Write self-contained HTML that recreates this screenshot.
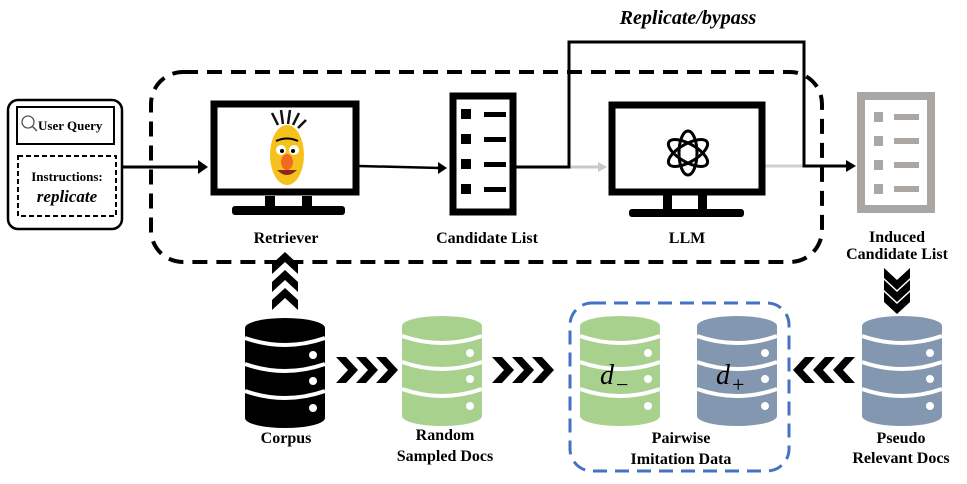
<!DOCTYPE html>
<html><head><style>body{margin:0;background:#fff}svg{display:block}text{font-family:"Liberation Serif",serif;font-weight:bold}</style></head>
<body>
<svg width="967" height="484" viewBox="0 0 967 484" xmlns="http://www.w3.org/2000/svg">
<defs>
<g id="db">
<rect x="0" y="10" width="80" height="90" rx="0"/>
<ellipse cx="40" cy="10" rx="40" ry="10"/>
<ellipse cx="40" cy="100" rx="40" ry="10"/>
<path d="M0 20 Q40 34 80 20 M0 46 Q40 60 80 46 M0 73 Q40 87 80 73" stroke="#fff" stroke-width="4" fill="none"/>
<circle cx="68" cy="37" r="4" fill="#fff"/><circle cx="68" cy="63" r="4" fill="#fff"/><circle cx="68" cy="90" r="4" fill="#fff"/>
</g>
<path id="chev" d="M0 0 L10 0 L22 13 L10 26 L0 26 L12 13 Z"/>
</defs>

<text x="688" y="24" font-size="20" font-style="italic" text-anchor="middle">Replicate/bypass</text>

<rect x="151" y="72" width="671" height="190" rx="32" fill="none" stroke="#000" stroke-width="4" stroke-dasharray="15 9"/>

<rect x="8" y="100" width="114" height="129" rx="10" fill="#fff" stroke="#000" stroke-width="2.5"/>
<rect x="17" y="107" width="97" height="37" fill="none" stroke="#000" stroke-width="2"/>
<circle cx="28" cy="122" r="6" fill="none" stroke="#555" stroke-width="1.3"/><line x1="32" y1="126" x2="37" y2="131" stroke="#555" stroke-width="1.5"/>
<text x="38" y="130" font-size="13">User Query</text>
<rect x="18" y="156" width="98" height="60" fill="none" stroke="#000" stroke-width="2" stroke-dasharray="5 3"/>
<text x="67" y="181" font-size="13" text-anchor="middle">Instructions:</text>
<text x="67" y="202" font-size="17" font-style="italic" text-anchor="middle">replicate</text>

<line x1="122" y1="167" x2="200" y2="167" stroke="#000" stroke-width="3"/>
<path d="M198 160 L208 167 L198 174Z"/>

<rect x="214" y="104" width="142" height="88" fill="#fff" stroke="#000" stroke-width="7"/>
<rect x="265" y="196" width="10" height="12"/><rect x="302" y="196" width="10" height="12"/>
<rect x="232" y="206" width="113" height="9" rx="3"/>
<g>
<path d="M278 125 l-6 -12 M283 124 l-2 -14 M288 124 l2 -14 M293 125 l6 -12 M298 128 l8 -8" stroke="#111" stroke-width="2.5"/>
<ellipse cx="287" cy="155" rx="17" ry="30" fill="#f5c21b"/>
<circle cx="281" cy="150" r="5" fill="#fff"/><circle cx="294" cy="150" r="5" fill="#fff"/>
<circle cx="282" cy="151" r="2" fill="#000"/><circle cx="293" cy="151" r="2" fill="#000"/>
<ellipse cx="287" cy="162" rx="6" ry="8" fill="#f26a21"/>
<path d="M277 170 Q287 180 297 170Z" fill="#8b2a1a"/>
<path d="M276 141 Q287 136 298 141" stroke="#000" stroke-width="2" fill="none"/>
</g>
<text x="286" y="243" font-size="16" text-anchor="middle">Retriever</text>

<line x1="358" y1="166" x2="440" y2="168" stroke="#000" stroke-width="2.5"/>
<path d="M438 162 L447 168 L438 174Z"/>

<rect x="453" y="96" width="60" height="116" fill="#fff" stroke="#000" stroke-width="7"/>
<g fill="#000"><rect x="461" y="109" width="10" height="10"/><rect x="461" y="134" width="10" height="10"/><rect x="461" y="159" width="10" height="10"/><rect x="461" y="184" width="10" height="10"/>
<rect x="484" y="112" width="22" height="5"/><rect x="484" y="137" width="22" height="5"/><rect x="484" y="162" width="22" height="5"/><rect x="484" y="187" width="22" height="5"/></g>
<text x="487" y="243" font-size="16" text-anchor="middle">Candidate List</text>

<line x1="568" y1="167" x2="600" y2="167" stroke="#c8c8c8" stroke-width="3"/>
<path d="M598 162 L607 167 L598 172Z" fill="#c8c8c8"/>
<line x1="765" y1="166" x2="804" y2="166" stroke="#d0d0d0" stroke-width="3"/>

<path d="M515 167 L569 167 L569 42 L804 42 L804 166 L848 166" fill="none" stroke="#000" stroke-width="3"/>
<path d="M846 160 L856 166 L846 172Z"/>

<rect x="612" y="105" width="150" height="87" fill="#fff" stroke="#000" stroke-width="7"/>
<rect x="663" y="195" width="9" height="14"/><rect x="698" y="195" width="9" height="14"/>
<rect x="629" y="209" width="115" height="8" rx="3"/>
<g fill="none" stroke="#000" stroke-width="3" transform="translate(688,153)">
<ellipse rx="9" ry="22"/>
<ellipse rx="9" ry="22" transform="rotate(60)"/>
<ellipse rx="9" ry="22" transform="rotate(120)"/>
</g>
<text x="687" y="243" font-size="16" text-anchor="middle">LLM</text>

<rect x="861" y="96" width="70" height="113" fill="#fff" stroke="#aaa6a4" stroke-width="8"/>
<g fill="#aaa6a4"><rect x="874" y="112" width="9" height="10"/><rect x="874" y="136" width="9" height="10"/><rect x="874" y="160" width="9" height="10"/><rect x="874" y="184" width="9" height="10"/>
<rect x="894" y="114" width="25" height="6"/><rect x="894" y="138" width="25" height="6"/><rect x="894" y="162" width="25" height="6"/><rect x="894" y="186" width="25" height="6"/></g>
<text x="897" y="242" font-size="16" text-anchor="middle">Induced</text>
<text x="897" y="259" font-size="16" text-anchor="middle">Candidate List</text>

<g fill="#000">
<use href="#chev" transform="translate(272,274) rotate(-90)"/>
<use href="#chev" transform="translate(272,292) rotate(-90)"/>
<use href="#chev" transform="translate(272,310) rotate(-90)"/>
<use href="#chev" transform="translate(910,268) rotate(90)"/>
<use href="#chev" transform="translate(910,280) rotate(90)"/>
<use href="#chev" transform="translate(910,292) rotate(90)"/>
</g>

<use href="#db" x="245" y="318" fill="#000"/>
<use href="#db" x="402" y="316" fill="#a9d18e"/>
<use href="#db" x="580" y="316" fill="#a9d18e"/>
<use href="#db" x="697" y="316" fill="#8497b0"/>
<use href="#db" x="862" y="316" fill="#8497b0"/>

<g fill="#000">
<use href="#chev" transform="translate(336,357)"/><use href="#chev" transform="translate(356,357)"/><use href="#chev" transform="translate(376,357)"/>
<use href="#chev" transform="translate(492,357)"/><use href="#chev" transform="translate(512,357)"/><use href="#chev" transform="translate(532,357)"/>
<use href="#chev" transform="translate(855,383) rotate(180)"/><use href="#chev" transform="translate(835,383) rotate(180)"/><use href="#chev" transform="translate(815,383) rotate(180)"/>
</g>

<rect x="570" y="303" width="219" height="168" rx="22" fill="none" stroke="#4472c4" stroke-width="3" stroke-dasharray="14 8"/>

<text x="600" y="384" font-size="28" font-style="italic" style="font-weight:normal">d</text><text x="616" y="392" font-size="22" style="font-weight:normal">−</text>
<text x="716" y="384" font-size="28" font-style="italic" style="font-weight:normal">d</text><text x="732" y="392" font-size="22" style="font-weight:normal">+</text>

<text x="286" y="443" font-size="16" text-anchor="middle">Corpus</text>
<text x="445" y="440" font-size="16" text-anchor="middle">Random</text>
<text x="445" y="461" font-size="16" text-anchor="middle">Sampled Docs</text>
<text x="681" y="443" font-size="16" text-anchor="middle">Pairwise</text>
<text x="681" y="464" font-size="16" text-anchor="middle">Imitation Data</text>
<text x="901" y="443" font-size="16" text-anchor="middle">Pseudo</text>
<text x="901" y="463" font-size="16" text-anchor="middle">Relevant Docs</text>
</svg>
</body></html>
